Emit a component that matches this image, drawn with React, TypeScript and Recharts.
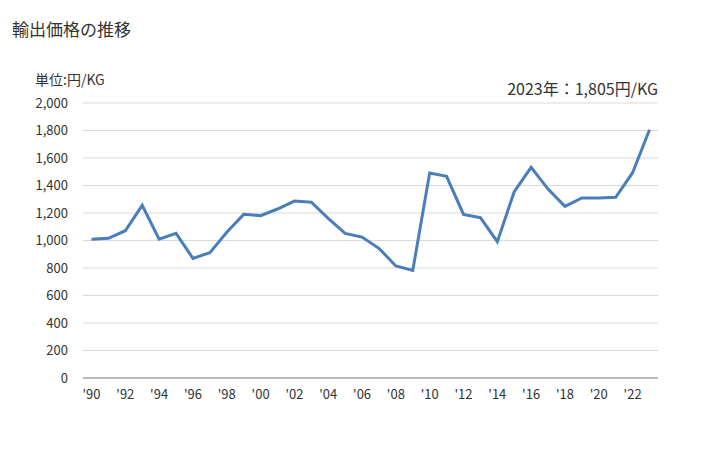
import React from "react";
import { LineChart, Line, XAxis, YAxis, CartesianGrid } from "recharts";

const years = [
  "1990", "1991", "1992", "1993", "1994", "1995", "1996", "1997", "1998", "1999",
  "2000", "2001", "2002", "2003", "2004", "2005", "2006", "2007", "2008", "2009",
  "2010", "2011", "2012", "2013", "2014", "2015", "2016", "2017", "2018", "2019",
  "2020", "2021", "2022", "2023",
];

const prices = [
  1009, 1016, 1071, 1256, 1009, 1052, 870, 912, 1060, 1190,
  1181, 1229, 1287, 1278, 1161, 1052, 1025, 943, 815, 783,
  1491, 1467, 1190, 1166, 991, 1355, 1532, 1374, 1248, 1309,
  1309, 1314, 1493, 1805,
];

const yTicks = [0, 200, 400, 600, 800, 1000, 1200, 1400, 1600, 1800, 2000];

const data = years.map((y, i) => ({ year: y, price: prices[i] }));

const fontStack = '"Noto Sans CJK JP", "Noto Sans", sans-serif';

export default function App() {
  return (
    <div
      style={{
        position: "absolute",
        left: 0,
        top: 0,
        width: 728,
        height: 450,
        background: "#fff",
        fontFamily: fontStack,
        color: "#333",
      }}
    >
      <div style={{ position: "absolute", left: 12, top: 16, fontSize: 17 }}>
        輸出価格の推移
      </div>
      <div style={{ position: "absolute", left: 35, top: 69, fontSize: 14 }}>
        単位:円/KG
      </div>
      <div
        style={{
          position: "absolute",
          right: 70,
          top: 76,
          fontSize: 16,
          textAlign: "right",
        }}
      >
        2023年：1,805円/KG
      </div>
      <LineChart
        width={728}
        height={450}
        data={data}
        margin={{ top: 103, right: 70, bottom: 42, left: 0 }}
      >
        <CartesianGrid vertical={false} stroke="#d9d9d9" />
        <XAxis
          dataKey="year"
          height={30}
          interval={1}
          tickFormatter={(v: string) => "'" + v.slice(2)}
          tickLine={false}
          axisLine={{ stroke: "#898989" }}
          tick={{ fill: "#333", fontSize: 13, fontFamily: fontStack }}
          tickMargin={6}
          padding={{ left: 8.5, right: 8.5 }}
        />
        <YAxis
          width={83}
          domain={[0, 2000]}
          ticks={yTicks}
          interval={0}
          tickFormatter={(v: number) => v.toLocaleString("en-US")}
          tickLine={false}
          axisLine={false}
          tick={{ fill: "#333", fontSize: 13, fontFamily: fontStack }}
          tickMargin={9}
        />
        <Line
          type="linear"
          dataKey="price"
          stroke="#4a7ebb"
          strokeWidth={3}
          dot={false}
          isAnimationActive={false}
        />
      </LineChart>
    </div>
  );
}
